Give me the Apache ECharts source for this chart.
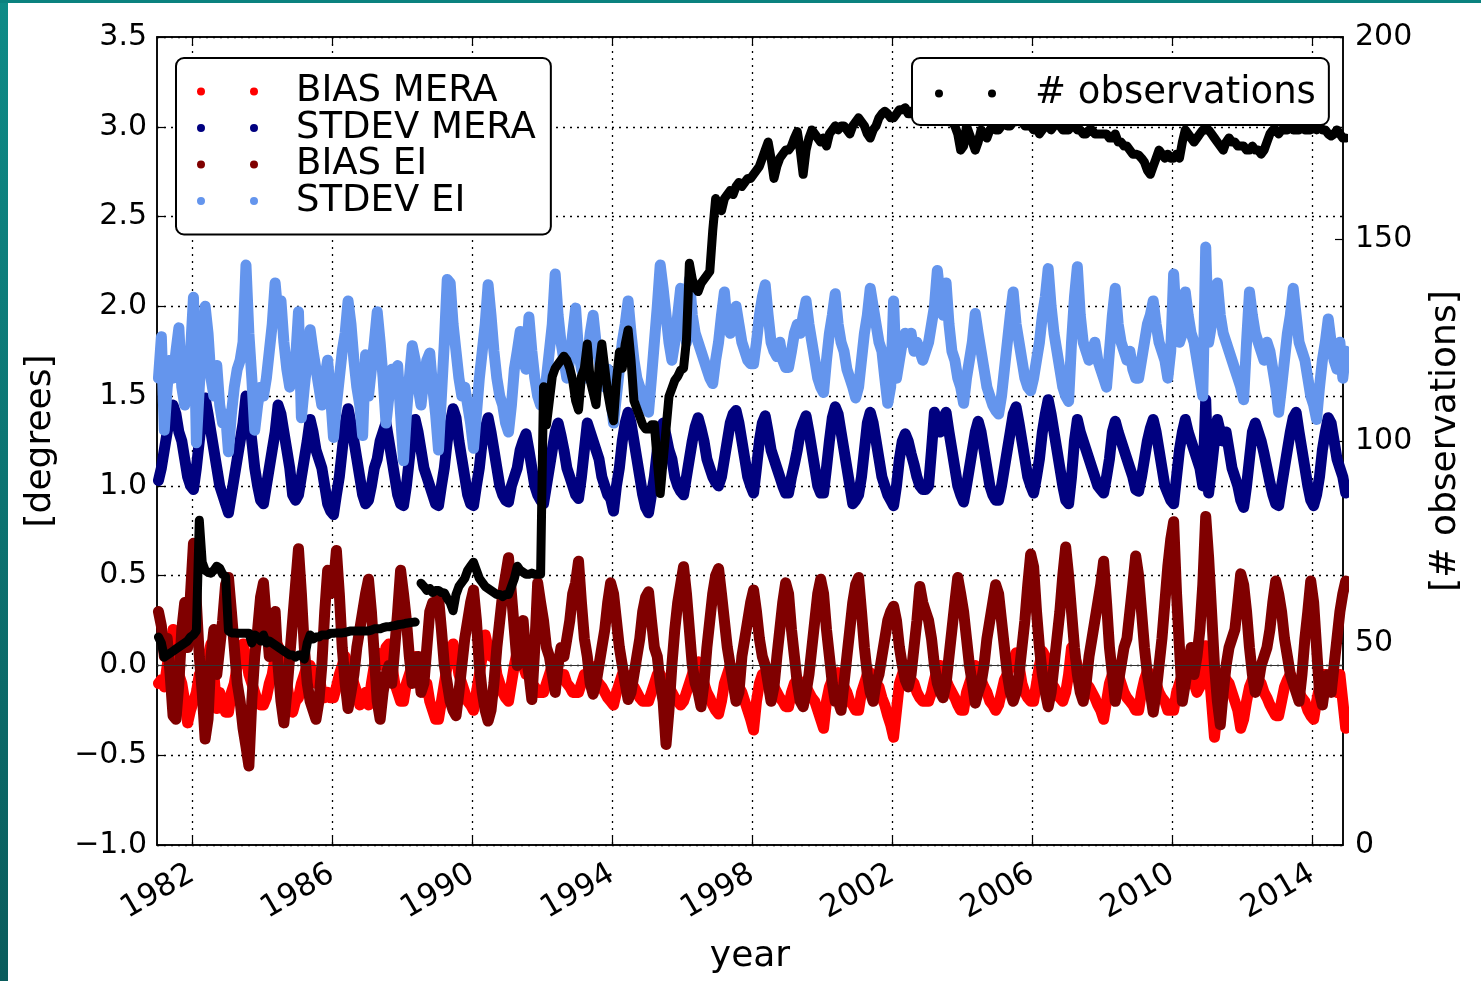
<!DOCTYPE html>
<html><head><meta charset="utf-8">
<script src="https://cdn.jsdelivr.net/npm/echarts@6/dist/echarts.min.js"></script>
<style>
html,body{margin:0;padding:0;background:#fff;overflow:hidden;}
#chart{position:absolute;left:0;top:0;width:1481px;height:981px;}
#frameL{position:absolute;left:0;top:0;width:8px;height:981px;background:linear-gradient(#0e8b87,#0a5c5c);}
#frameT{position:absolute;left:0;top:0;width:1481px;height:3px;background:#0b827f;}
</style></head>
<body>
<div id="chart"></div><div id="frameL"></div><div id="frameT"></div>
<script>
// monthly values, Jan..Dec, 1981..2014
const startYear = 1981;
const yearTicks = [1982, 1986, 1990, 1994, 1998, 2002, 2006, 2010, 2014];

const biasMera = [
-0.10,-0.08,-0.12,0.00,0.10,0.20,0.05,-0.05,-0.10,-0.20,-0.32,-0.25,
-0.20,-0.15,-0.05,-0.10,0.00,0.05,0.12,-0.05,-0.24,-0.15,-0.20,-0.26,
-0.26,-0.15,-0.10,0.00,0.05,0.12,0.05,-0.05,-0.10,-0.15,-0.20,-0.22,
-0.22,-0.18,-0.10,-0.05,0.05,0.11,0.05,-0.05,-0.10,-0.20,-0.26,-0.20,
-0.18,-0.10,-0.05,0.00,0.00,-0.05,-0.10,-0.05,-0.15,-0.18,-0.15,-0.18,
-0.18,-0.12,-0.05,0.00,0.05,0.00,-0.05,-0.10,-0.15,-0.22,-0.20,-0.15,
-0.22,-0.10,0.00,0.07,0.05,0.00,0.10,0.12,0.00,-0.10,-0.15,-0.20,
-0.20,-0.10,-0.05,0.00,0.05,0.00,-0.10,-0.15,-0.10,-0.20,-0.25,-0.30,
-0.30,-0.20,-0.10,0.00,0.05,0.12,0.05,-0.05,-0.10,-0.15,-0.20,-0.22,
-0.25,-0.15,-0.05,0.05,0.17,0.10,0.05,0.08,-0.05,-0.10,-0.15,-0.18,
-0.20,-0.10,0.00,0.08,0.05,0.00,-0.05,-0.05,-0.10,-0.12,-0.15,-0.15,
-0.15,-0.10,-0.05,0.00,-0.05,-0.05,-0.08,-0.05,-0.10,-0.12,-0.15,-0.15,
-0.15,-0.10,-0.05,-0.05,0.00,-0.05,-0.08,-0.10,-0.12,-0.15,-0.18,-0.20,
-0.22,-0.15,-0.10,-0.05,-0.05,-0.08,-0.10,-0.12,-0.15,-0.18,-0.20,-0.20,
-0.20,-0.15,-0.10,-0.05,-0.05,-0.08,-0.10,-0.12,-0.15,-0.18,-0.20,-0.22,
-0.20,-0.15,-0.10,-0.05,0.00,0.02,-0.05,-0.10,-0.15,-0.18,-0.22,-0.25,
-0.27,-0.20,-0.10,-0.05,0.00,-0.02,-0.08,-0.12,-0.15,-0.20,-0.25,-0.30,
-0.36,-0.20,-0.10,-0.05,-0.05,-0.08,-0.10,-0.12,-0.15,-0.18,-0.20,-0.23,
-0.23,-0.15,-0.10,-0.08,-0.09,-0.10,-0.12,-0.15,-0.18,-0.20,-0.25,-0.30,
-0.35,-0.20,-0.12,-0.08,-0.05,-0.04,-0.08,-0.12,-0.15,-0.20,-0.22,-0.25,
-0.25,-0.15,-0.10,-0.05,-0.04,-0.06,-0.10,-0.12,-0.18,-0.22,-0.28,-0.33,
-0.40,-0.25,-0.10,-0.05,0.00,-0.05,-0.08,-0.10,-0.15,-0.18,-0.20,-0.20,
-0.20,-0.15,-0.08,-0.02,0.00,-0.03,-0.08,-0.12,-0.15,-0.18,-0.22,-0.25,
-0.25,-0.15,-0.10,-0.05,0.00,-0.03,-0.08,-0.12,-0.15,-0.20,-0.22,-0.25,
-0.22,-0.15,-0.08,-0.05,0.00,0.03,0.07,0.00,-0.10,-0.15,-0.18,-0.20,
-0.20,-0.10,0.00,0.08,0.05,-0.02,-0.10,-0.12,-0.15,-0.18,-0.20,-0.15,
-0.05,0.10,0.05,0.00,-0.05,-0.08,-0.10,-0.12,-0.15,-0.18,-0.22,-0.25,
-0.30,-0.20,-0.10,-0.05,0.00,-0.05,-0.10,-0.15,-0.18,-0.20,-0.22,-0.25,
-0.25,-0.15,-0.08,-0.03,-0.05,-0.08,-0.10,-0.15,-0.18,-0.20,-0.25,-0.25,
-0.25,-0.15,-0.10,-0.05,0.00,-0.03,-0.08,-0.10,-0.15,-0.12,-0.05,0.11,
0.00,-0.20,-0.40,-0.25,-0.12,-0.05,-0.08,-0.10,-0.15,-0.20,-0.25,-0.35,
-0.30,-0.20,-0.12,-0.08,-0.05,-0.08,-0.10,-0.15,-0.18,-0.22,-0.25,-0.28,
-0.28,-0.20,-0.12,-0.08,-0.05,-0.08,-0.10,-0.15,-0.18,-0.20,-0.25,-0.28,
-0.30,-0.20,-0.12,-0.05,-0.05,-0.08,-0.10,-0.12,-0.15,-0.05,-0.20,-0.35
];

const stdevMera = [
1.03,1.10,1.20,1.30,1.38,1.45,1.40,1.30,1.25,1.15,1.05,1.00,
0.98,1.10,1.25,1.40,1.49,1.40,1.30,1.20,1.10,1.00,0.95,0.90,
0.85,0.95,1.05,1.15,1.25,1.35,1.50,1.40,1.25,1.10,1.00,0.92,
0.90,1.00,1.10,1.20,1.30,1.45,1.40,1.30,1.20,1.10,0.95,0.92,
0.95,1.05,1.15,1.25,1.37,1.30,1.20,1.15,1.10,1.00,0.90,0.86,
0.84,0.95,1.05,1.20,1.35,1.43,1.35,1.25,1.15,1.05,0.95,0.90,
0.92,1.00,1.10,1.15,1.25,1.30,1.35,1.25,1.15,1.05,0.95,0.90,
0.89,1.00,1.15,1.30,1.37,1.30,1.20,1.10,1.05,1.00,0.95,0.90,
0.89,1.00,1.10,1.25,1.35,1.43,1.38,1.25,1.15,1.05,0.95,0.90,
0.89,1.00,1.10,1.25,1.32,1.38,1.30,1.20,1.10,1.00,0.95,0.92,
0.91,1.00,1.05,1.10,1.20,1.25,1.29,1.20,1.10,1.00,0.95,0.92,
0.90,1.00,1.10,1.20,1.30,1.35,1.28,1.20,1.10,1.05,1.00,0.95,
0.93,1.05,1.20,1.35,1.30,1.25,1.20,1.15,1.05,1.00,0.95,0.93,
0.86,1.00,1.10,1.25,1.35,1.41,1.35,1.25,1.15,1.05,0.95,0.88,
0.85,0.95,1.05,1.20,1.30,1.35,1.28,1.20,1.15,1.05,1.00,0.97,
0.95,1.05,1.15,1.25,1.33,1.38,1.32,1.25,1.15,1.10,1.05,1.02,
1.00,1.05,1.15,1.25,1.35,1.40,1.42,1.35,1.25,1.15,1.05,1.00,
0.96,1.10,1.25,1.35,1.39,1.30,1.20,1.15,1.10,1.05,1.00,0.96,
0.96,1.05,1.12,1.20,1.30,1.35,1.39,1.30,1.20,1.10,1.00,0.96,
0.96,1.10,1.25,1.38,1.44,1.40,1.30,1.20,1.10,1.00,0.90,0.92,
0.95,1.05,1.20,1.35,1.41,1.35,1.25,1.15,1.05,1.00,0.95,0.92,
0.89,1.00,1.15,1.25,1.29,1.25,1.18,1.12,1.05,1.00,0.98,0.98,
1.00,1.20,1.41,1.35,1.30,1.38,1.41,1.30,1.20,1.10,1.00,0.95,
0.91,1.00,1.10,1.20,1.30,1.36,1.30,1.20,1.10,1.00,0.95,0.92,
0.92,1.00,1.10,1.20,1.30,1.40,1.44,1.35,1.25,1.15,1.05,1.00,
0.96,1.05,1.15,1.30,1.40,1.48,1.40,1.30,1.20,1.10,1.00,0.92,
0.90,1.05,1.25,1.37,1.30,1.25,1.20,1.15,1.10,1.05,1.00,0.98,
0.96,1.05,1.15,1.30,1.36,1.30,1.25,1.20,1.15,1.10,1.05,0.98,
0.97,1.05,1.15,1.25,1.32,1.37,1.30,1.20,1.10,1.00,0.96,0.92,
0.90,1.05,1.20,1.30,1.37,1.30,1.25,1.20,1.15,1.10,1.00,1.48,
0.96,1.10,1.25,1.37,1.30,1.25,1.30,1.20,1.10,1.05,1.00,0.92,
0.88,1.00,1.15,1.30,1.35,1.30,1.25,1.18,1.10,1.02,0.95,0.90,
0.89,1.00,1.10,1.20,1.30,1.38,1.41,1.30,1.20,1.10,1.00,0.92,
0.89,0.95,1.05,1.20,1.30,1.38,1.35,1.25,1.15,1.10,1.05,0.96
];

const biasEi = [
0.30,0.22,0.05,0.15,-0.05,-0.28,-0.30,-0.10,0.20,0.35,0.10,0.40,
0.68,0.35,0.05,-0.15,-0.41,-0.30,0.05,0.20,-0.05,0.10,0.25,0.45,
0.49,0.30,0.10,-0.10,-0.20,-0.35,-0.45,-0.56,-0.20,0.05,0.20,0.38,
0.46,0.25,0.05,0.10,0.30,0.00,-0.20,-0.32,-0.15,0.05,0.25,0.45,
0.65,0.40,0.10,-0.10,-0.20,-0.25,-0.30,-0.20,0.00,0.30,0.53,0.40,
0.45,0.64,0.40,0.10,-0.10,-0.24,-0.15,-0.05,0.10,0.20,0.30,0.40,
0.48,0.30,0.05,-0.20,-0.30,-0.15,-0.05,0.00,-0.10,0.10,0.30,0.53,
0.40,0.25,0.05,-0.10,-0.05,0.05,-0.15,-0.10,0.10,0.30,0.35,0.30,
0.38,0.20,0.00,-0.10,-0.20,-0.25,-0.28,-0.15,0.00,0.15,0.25,0.35,
0.42,0.25,0.00,-0.15,-0.25,-0.31,-0.25,-0.10,0.10,0.25,0.40,0.50,
0.60,0.40,0.20,0.00,0.15,0.25,0.05,-0.05,-0.19,0.10,0.46,0.35,
0.25,0.10,0.05,-0.05,-0.15,0.00,0.10,0.05,0.15,0.25,0.40,0.46,
0.58,0.35,0.15,0.05,-0.10,-0.16,-0.10,0.00,0.10,0.20,0.35,0.46,
0.40,0.25,0.10,0.00,-0.10,-0.19,-0.15,-0.05,0.05,0.15,0.30,0.38,
0.41,0.25,0.10,0.05,-0.10,-0.20,-0.44,-0.25,0.00,0.20,0.35,0.45,
0.55,0.40,0.20,0.00,-0.10,-0.15,-0.23,-0.10,0.10,0.25,0.40,0.50,
0.54,0.40,0.25,0.10,0.00,-0.10,-0.20,-0.15,0.05,0.15,0.25,0.35,
0.42,0.30,0.15,0.05,0.00,-0.10,-0.20,-0.12,0.05,0.20,0.35,0.46,
0.40,0.20,0.05,-0.10,-0.20,-0.23,-0.15,-0.05,0.10,0.25,0.40,0.48,
0.40,0.20,0.05,-0.10,-0.20,-0.20,-0.25,-0.10,0.05,0.20,0.35,0.45,
0.49,0.30,0.10,-0.05,-0.15,-0.20,-0.10,-0.05,0.05,0.15,0.25,0.30,
0.33,0.25,0.10,0.00,-0.08,-0.12,-0.05,0.10,0.25,0.44,0.35,0.30,
0.25,0.15,0.00,-0.10,-0.15,-0.18,-0.10,0.05,0.20,0.35,0.49,0.40,
0.30,0.15,0.00,-0.10,-0.21,-0.15,-0.10,0.00,0.15,0.25,0.35,0.45,
0.40,0.25,0.10,-0.05,-0.15,-0.20,-0.15,-0.05,0.10,0.25,0.45,0.62,
0.55,0.30,0.10,-0.05,-0.15,-0.23,-0.15,0.00,0.15,0.30,0.50,0.66,
0.50,0.30,0.10,-0.05,-0.15,-0.20,-0.10,0.05,0.15,0.25,0.35,0.45,
0.58,0.35,0.10,-0.05,-0.20,-0.10,0.00,0.10,0.15,0.30,0.45,0.61,
0.50,0.30,0.10,-0.05,-0.15,-0.26,-0.15,0.00,0.15,0.35,0.55,0.70,
0.80,0.40,0.10,-0.20,-0.10,0.00,0.10,-0.05,0.05,0.20,0.45,0.83,
0.60,0.30,0.00,-0.20,-0.33,-0.15,0.00,0.10,0.15,0.20,0.35,0.51,
0.45,0.30,0.10,-0.05,-0.15,-0.10,0.00,0.05,0.10,0.20,0.35,0.47,
0.40,0.30,0.15,0.05,-0.05,-0.10,-0.15,-0.20,-0.05,0.15,0.30,0.47,
0.35,0.10,-0.15,-0.22,-0.10,-0.05,-0.15,0.00,0.15,0.30,0.40,0.47
];

const stdevEi = [
1.60,1.83,1.31,1.55,1.70,1.60,1.75,1.88,1.55,1.45,1.60,1.75,
2.05,1.24,1.55,1.80,2.00,1.85,1.60,1.50,1.67,1.45,1.35,1.40,
1.19,1.40,1.55,1.65,1.70,1.80,2.23,1.85,1.60,1.31,1.45,1.55,
1.50,1.60,1.75,1.90,2.13,1.95,2.03,1.80,1.65,1.55,1.60,1.70,
1.97,1.38,1.55,1.70,1.87,1.75,1.65,1.55,1.45,1.60,1.70,1.50,
1.27,1.45,1.60,1.75,1.85,2.03,1.90,1.70,1.55,1.45,1.28,1.73,
1.50,1.65,1.80,1.97,1.80,1.60,1.35,1.50,1.65,1.60,1.67,1.40,
1.14,1.40,1.60,1.78,1.70,1.55,1.45,1.60,1.70,1.74,1.55,1.40,
1.20,1.50,1.80,2.15,2.13,1.90,1.75,1.60,1.50,1.55,1.45,1.35,
1.21,1.40,1.60,1.75,1.90,2.12,1.95,1.75,1.60,1.50,1.45,1.35,
1.30,1.45,1.65,1.75,1.86,1.70,1.65,1.94,1.75,1.60,1.50,1.45,
1.50,1.60,1.75,1.90,2.18,1.95,1.80,1.70,1.60,1.70,1.85,1.99,
1.75,1.65,1.60,1.70,1.85,1.95,1.80,1.70,1.60,1.55,1.65,1.50,
1.35,1.50,1.65,1.80,1.90,2.03,1.85,1.70,1.60,1.55,1.50,1.45,
1.41,1.60,1.80,2.00,2.23,2.10,1.95,1.80,1.70,1.80,1.95,2.10,
1.90,1.80,2.15,1.95,1.85,1.80,1.75,1.70,1.65,1.60,1.57,1.70,
1.80,1.95,2.08,1.90,1.85,1.95,2.00,1.90,1.80,1.75,1.70,1.68,
1.68,1.80,1.95,2.05,2.12,1.95,1.80,1.75,1.72,1.80,1.70,1.66,
1.66,1.75,1.85,1.90,1.85,1.95,2.03,1.90,1.80,1.70,1.60,1.55,
1.52,1.70,1.85,1.95,2.07,1.90,1.80,1.75,1.65,1.60,1.55,1.49,
1.55,1.70,1.85,1.95,2.10,2.00,1.90,1.80,1.75,1.60,1.46,1.55,
2.03,1.60,1.70,1.80,1.85,1.80,1.85,1.75,1.80,1.75,1.70,1.75,
1.80,1.90,2.00,2.20,2.05,1.95,2.13,1.90,1.75,1.70,1.60,1.55,
1.46,1.60,1.70,1.80,1.96,1.85,1.75,1.65,1.55,1.50,1.45,1.42,
1.40,1.50,1.65,1.80,1.95,2.08,1.90,1.80,1.70,1.60,1.55,1.53,
1.60,1.70,1.80,1.95,2.05,2.21,2.00,1.85,1.75,1.65,1.55,1.50,
1.47,1.80,2.05,2.22,1.95,1.80,1.75,1.70,1.75,1.80,1.70,1.65,
1.60,1.55,1.75,1.95,2.10,1.90,1.80,1.75,1.70,1.75,1.65,1.60,
1.60,1.70,1.80,1.90,1.95,2.03,1.90,1.80,1.75,1.70,1.60,1.75,
2.18,1.90,1.80,1.85,2.08,1.95,1.85,1.80,1.70,1.60,1.50,2.33,
1.80,1.90,2.00,2.13,1.95,1.85,1.80,1.75,1.70,1.65,1.60,1.55,
1.48,1.80,2.08,1.95,1.85,1.80,1.75,1.70,1.80,1.75,1.65,1.55,
1.41,1.55,1.70,1.85,1.95,2.10,1.95,1.80,1.75,1.70,1.60,1.50,
1.45,1.37,1.55,1.70,1.80,1.93,1.80,1.70,1.65,1.80,1.60,1.75
];

const observations = [
51.5,50,46.5,47,47.5,48,48.5,49,49.5,50,50.5,51.5,
52,53,80.4,70,68,67.5,67.3,68,69,68.5,67,66.5,
53,52.5,52.5,52.4,52.4,52.4,52.4,52.4,50,52,51.5,50.5,
52,50,50.5,50,49.5,49,48.5,48,47.5,47,47,46.5,
47,47,46,50,52,51,51.5,51.5,52,52,52,52.4,
52.4,52.5,52.5,52.5,52.6,52.8,53,53,53,53,53,53,
53,53.2,53.5,53.5,53.5,53.8,54,54,54.2,54.3,54.5,54.6,
54.7,54.9,55,55.1,55.2,null,64.8,64,63,63.5,62.5,63,
63,62.5,62.4,61,60,58,62,64,65,66,68,69,
70,68,66,65,64,63.5,63,62.5,62,62,61.5,62,
62,64,66,69,68,67.5,67,67,67.3,67,67,67,
113.4,104,110,116,118,119,120,121,120,118,115,110,
107.7,116,118,124,115,112,109,118,124,118,112,108,
105,115,122,118,124,127.5,120,110,108,106,104,103,
103,104,104,95,87,95,103,111,113,115,116,117.5,
118,125,144,140,138,137,139,140,141,142,152,160,
158,157,160,161,162,161,163,164,163,164,165,165,
166,167,168,170,172,174,170,165,168,170,171,172,
172,173,175,176.6,172,166,172,175,177,176,175,174,
175,173,176,177,178,177,178,178,177,176,178,179,
180,179,178,176,175,177,178,180,181,181.6,181,180,
180,181,182,182,182.5,181,181,182,181,181,180,180,
180,180,181,180,180,181,180,179,179,178,176,172,
173,178,176,174,172,174,177,176,175,177,178,177,
177,178,179,178,178,179,179,180,179,178,178,178,
177,178,176,177,178,178,177,178,179,178,177,177,
177,178,178,177,177,176,176,177,177,176,176,176,
176,176,175,175,176,174,174,173,173,172,171,171,
170.8,170,169,167,166,168,170,172,171,170,171,170,
170,171,170,174,177,176,175,174,175,176,177,177,
177,176,175,174,173,172,174,175,174,174,173,173,
173,172,172,173,172,172,171,172,174,176,177,177,
176,177,177,177,178,177,177,177,178,177,177,177,
177.5,177,178,177,177,176,175.5,176,177,176,175,175
];

function withTime(arr) {
  return arr.map((v, i) => [startYear + (i + 0.5) / 12, v]);
}

const FONT = 'DejaVu Sans';
const twoDots = 'path://M0,4A4,4,0,1,1,8,4A4,4,0,1,1,0,4ZM53,4A4,4,0,1,1,61,4A4,4,0,1,1,53,4Z';
const colors = {
  'BIAS MERA': '#ff0000',
  'STDEV MERA': '#000080',
  'BIAS EI': '#800000',
  'STDEV EI': '#6495ed',
  '# observations': '#000000'
};

function lineSeries(name, arr, yAxisIndex, width, extra) {
  return Object.assign({
    name: name, type: 'line', data: withTime(arr), yAxisIndex: yAxisIndex,
    xAxisIndex: 0, symbol: 'none', showSymbol: false, connectNulls: false,
    color: colors[name], itemStyle: {color: colors[name]},
    lineStyle: {color: colors[name], width: width, cap: 'round', join: 'round'},
    emphasis: {disabled: true}, clip: true
  }, extra || {});
}

const dotted = {color: '#000', width: 1.3, type: [2, 5]};
const fmtDeg = v => (v < 0 ? '\u2212' : '') + Math.abs(v).toFixed(1);

const chart = echarts.init(document.getElementById('chart'), null, {renderer: 'canvas'});
chart.setOption({
  animation: false,
  backgroundColor: '#ffffff',
  textStyle: {fontFamily: FONT},
  grid: {left: 157, right: 138, top: 37, bottom: 136, show: true,
         borderColor: '#000', borderWidth: 1.5, backgroundColor: 'transparent'},
  xAxis: [{
    type: 'value', min: 1981.0, max: 2014.88, position: 'bottom',
    name: 'year', nameLocation: 'middle', nameGap: 94,
    nameTextStyle: {fontFamily: FONT, fontSize: 36, color: '#000'},
    axisLine: {show: true, onZero: false, lineStyle: {color: '#000', width: 1.5}},
    axisTick: {show: true, inside: true, length: 8, customValues: yearTicks,
               lineStyle: {color: '#000', width: 1.2}},
    axisLabel: {show: true, customValues: yearTicks, rotate: 30, margin: 27,
                fontFamily: FONT, fontSize: 31, color: '#000',
                formatter: v => String(Math.round(v))},
    splitLine: {show: true, lineStyle: dotted}
  }, {
    type: 'value', min: 1981.0, max: 2014.88, position: 'top',
    axisLine: {show: true, onZero: false, lineStyle: {color: '#000', width: 1.5}},
    axisTick: {show: true, inside: true, length: 8, customValues: yearTicks,
               lineStyle: {color: '#000', width: 1.2}},
    axisLabel: {show: false},
    splitLine: {show: false}
  }],
  yAxis: [{
    type: 'value', min: -1.0, max: 3.5, interval: 0.5, position: 'left',
    name: '[degrees]', nameLocation: 'middle', nameGap: 98, nameRotate: 90,
    nameTextStyle: {fontFamily: FONT, fontSize: 36, color: '#000'},
    axisLine: {show: true, onZero: false, lineStyle: {color: '#000', width: 1.5}},
    axisTick: {show: true, inside: true, length: 8, lineStyle: {color: '#000', width: 1.2}},
    axisLabel: {fontFamily: FONT, fontSize: 30, color: '#000', margin: 10, formatter: fmtDeg},
    splitLine: {show: true, lineStyle: dotted}
  }, {
    type: 'value', min: 0, max: 200, interval: 50, position: 'right',
    name: '[# observations]', nameLocation: 'middle', nameGap: 85, nameRotate: 90,
    nameTextStyle: {fontFamily: FONT, fontSize: 36, color: '#000'},
    axisLine: {show: true, onZero: false, lineStyle: {color: '#000', width: 1.5}},
    axisTick: {show: true, inside: true, length: 8, lineStyle: {color: '#000', width: 1.2}},
    axisLabel: {fontFamily: FONT, fontSize: 30, color: '#000', margin: 12},
    splitLine: {show: false}
  }],
  legend: [{
    orient: 'vertical', left: 176, top: 58, selectedMode: false,
    backgroundColor: '#fff', borderColor: '#000', borderWidth: 2, borderRadius: 8,
    padding: [15, 15, 15, 21], itemGap: -0.5, itemWidth: 61, itemHeight: 8,
    textStyle: {fontFamily: FONT, fontSize: 37, color: '#000', lineHeight: 36, padding: [0, 0, 0, 33]},
    data: ['BIAS MERA', 'STDEV MERA', 'BIAS EI', 'STDEV EI'].map(n => ({
      name: n, icon: twoDots, itemStyle: {color: colors[n], borderWidth: 0}
    }))
  }, {
    orient: 'vertical', left: 912, top: 58, selectedMode: false,
    backgroundColor: '#fff', borderColor: '#000', borderWidth: 2, borderRadius: 8,
    padding: [17, 13, 13, 23], itemGap: 0, itemWidth: 61, itemHeight: 8,
    textStyle: {fontFamily: FONT, fontSize: 37, color: '#000', lineHeight: 36, padding: [0, 0, 0, 34]},
    data: [{name: '# observations', icon: twoDots, itemStyle: {color: '#000', borderWidth: 0}}]
  }],
  series: [
    lineSeries('BIAS MERA', biasMera, 0, 11, {
      markLine: {silent: true, symbol: 'none', label: {show: false},
                 lineStyle: {color: '#333', width: 1, type: 'solid'},
                 data: [{yAxis: 0}]}
    }),
    lineSeries('STDEV MERA', stdevMera, 0, 11),
    lineSeries('BIAS EI', biasEi, 0, 11),
    lineSeries('STDEV EI', stdevEi, 0, 11),
    lineSeries('# observations', observations, 1, 9)
  ]
});
</script>
</body></html>
